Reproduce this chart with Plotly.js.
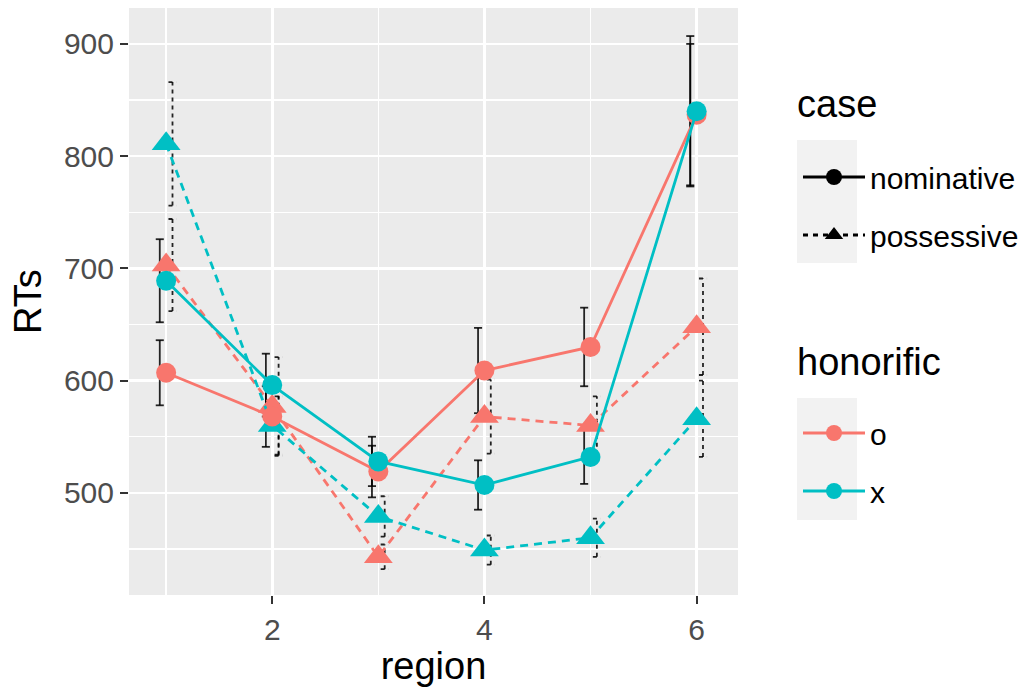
<!DOCTYPE html>
<html>
<head>
<meta charset="utf-8">
<script src="https://cdn.plot.ly/plotly-3.0.1.min.js"></script>
<style>html,body{margin:0;padding:0;background:#fff;}#chart{width:1034px;height:687px;}</style>
</head>
<body>
<div id="chart"></div>
<script>
const regions = [1, 2, 3, 4, 5, 6];
const oNom = [607, 568, 519, 609, 630, 837];
const oNomSE = [29, 27, 23, 38, 35, 63];
const xNom = [689, 596, 528, 507, 532, 840];
const xNomSE = [37, 28, 22, 22, 24, 67];
const oPos = [703, 577, 443, 568, 560, 648];
const oPosSE = [41, 44, 11, 33, 26, 43];
const xPos = [811, 560, 479, 449, 460, 566];
const xPosSE = [55, 26, 18, 13, 17, 34];
const caseLabels = ['nominative', 'possessive'];
const honorificLabels = ['o', 'x'];
const legendTitles = ['case', 'honorific'];

const RED = '#F8766D', TEAL = '#00BFC4';
const DODGE = 0.06, CAP = 0.038;
const FONT = 'Liberation Sans, Arial, Helvetica, sans-serif';

function errTrace(xs, ys, se, off, dash) {
  const X = [], Y = [];
  for (let i = 0; i < xs.length; i++) {
    const x = xs[i] + off, lo = ys[i] - se[i], hi = ys[i] + se[i];
    X.push(x, x, null, x - CAP, x + CAP, null, x - CAP, x + CAP, null);
    Y.push(lo, hi, null, hi, hi, null, lo, lo, null);
  }
  return {x: X, y: Y, mode: 'lines', type: 'scatter', showlegend: false, hoverinfo: 'skip',
    line: {color: 'rgba(0,0,0,0.85)', width: 1.8, dash: dash}};
}

function series(ys, color, dash, symbol, size) {
  return {x: regions, y: ys, mode: 'lines+markers', type: 'scatter', showlegend: false,
    line: {color: color, width: 2.8, dash: dash},
    marker: {color: color, symbol: symbol, size: size}};
}

const data = [
  errTrace(regions, oNom, oNomSE, -DODGE, 'solid'),
  errTrace(regions, xNom, xNomSE, -DODGE, 'solid'),
  errTrace(regions, oPos, oPosSE, DODGE, '4px,4px'),
  errTrace(regions, xPos, xPosSE, DODGE, '4px,4px'),
  series(oPos, RED, '8px,6px', 'triangle-up', 25),
  series(xPos, TEAL, '8px,6px', 'triangle-up', 25),
  series(oNom, RED, 'solid', 'circle', 20),
  series(xNom, TEAL, 'solid', 'circle', 20),
  // legend entries
  {x: [null], y: [null], type: 'scatter', mode: 'lines+markers', name: caseLabels[0], legend: 'legend', legendgroup: 'c1',
    line: {color: '#000', width: 2.8}, marker: {color: '#000', symbol: 'circle', size: 16}},
  {x: [null], y: [null], type: 'scatter', mode: 'lines+markers', name: caseLabels[1], legend: 'legend', legendgroup: 'c2',
    line: {color: '#000', width: 2.8, dash: '5px,5px'}, marker: {color: '#000', symbol: 'triangle-up', size: 16}},
  {x: [null], y: [null], type: 'scatter', mode: 'lines+markers', name: honorificLabels[0], legend: 'legend2', legendgroup: 'h1',
    line: {color: RED, width: 2.8}, marker: {color: RED, symbol: 'circle', size: 16}},
  {x: [null], y: [null], type: 'scatter', mode: 'lines+markers', name: honorificLabels[1], legend: 'legend2', legendgroup: 'h2',
    line: {color: TEAL, width: 2.8}, marker: {color: TEAL, symbol: 'circle', size: 16}}
];

function px2paperX(p) { return (p - 129) / 609; }
function px2paperY(p) { return (595 - p) / 587; }

const legendCommon = {
  xref: 'container', yref: 'container', xanchor: 'left', yanchor: 'top',
  font: {family: FONT, size: 30, color: '#000'},
  bgcolor: 'rgba(0,0,0,0)', tracegroupgap: 16, traceorder: 'grouped', itemwidth: 62
};

const layout = {
  width: 1034, height: 687,
  margin: {l: 129, r: 296, t: 8, b: 92},
  paper_bgcolor: '#ffffff', plot_bgcolor: '#EBEBEB',
  font: {family: FONT},
  xaxis: {
    range: [0.65, 6.39], tick0: 0, dtick: 2, showgrid: true, gridcolor: '#ffffff', gridwidth: 2.6,
    zeroline: false, showline: false, ticks: 'outside', ticklen: 8, tickwidth: 2, tickcolor: '#333333',
    tickfont: {family: FONT, size: 30, color: '#4D4D4D'},
    minor: {dtick: 1, tick0: 0, showgrid: true, gridcolor: '#ffffff', gridwidth: 1.3, ticks: ''},
    title: {text: 'region', font: {family: FONT, size: 38, color: '#000'}, standoff: 6}
  },
  yaxis: {
    range: [409, 932], tick0: 0, dtick: 100, showgrid: true, gridcolor: '#ffffff', gridwidth: 2.6,
    zeroline: false, showline: false, ticks: 'outside', ticklen: 8, tickwidth: 2, tickcolor: '#333333',
    tickfont: {family: FONT, size: 30, color: '#4D4D4D'},
    minor: {dtick: 50, tick0: 0, showgrid: true, gridcolor: '#ffffff', gridwidth: 1.3, ticks: ''},
    title: {text: 'RTs', font: {family: FONT, size: 38, color: '#000'}, standoff: 10}
  },
  legend: Object.assign({}, legendCommon, {x: 798 / 1034, y: 1 - 151 / 687}),
  legend2: Object.assign({}, legendCommon, {x: 798 / 1034, y: 1 - 407 / 687}),
  annotations: [
    {text: legendTitles[0], xref: 'paper', yref: 'paper', x: px2paperX(795), y: px2paperY(104),
      xanchor: 'left', yanchor: 'middle', showarrow: false, font: {family: FONT, size: 38, color: '#000'}},
    {text: legendTitles[1], xref: 'paper', yref: 'paper', x: px2paperX(795), y: px2paperY(362),
      xanchor: 'left', yanchor: 'middle', showarrow: false, font: {family: FONT, size: 38, color: '#000'}}
  ],
  shapes: [
    {type: 'rect', xref: 'paper', yref: 'paper', layer: 'below', line: {width: 0}, fillcolor: '#F2F2F2',
      x0: px2paperX(797), x1: px2paperX(857), y0: px2paperY(263), y1: px2paperY(140)},
    {type: 'rect', xref: 'paper', yref: 'paper', layer: 'below', line: {width: 0}, fillcolor: '#F2F2F2',
      x0: px2paperX(797), x1: px2paperX(857), y0: px2paperY(520), y1: px2paperY(398)}
  ],
  showlegend: true
};

Plotly.newPlot('chart', data, layout, {displayModeBar: false, staticPlot: true});
</script>
</body>
</html>
